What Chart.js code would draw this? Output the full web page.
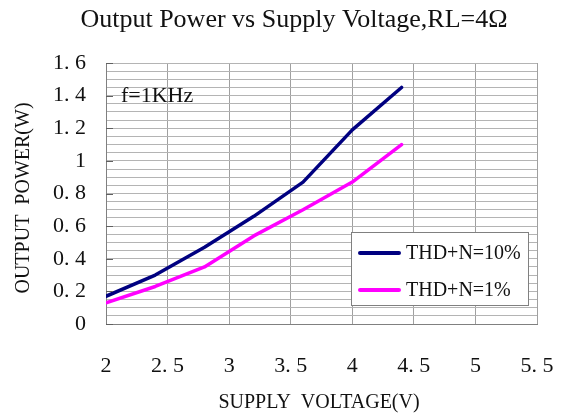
<!DOCTYPE html>
<html>
<head>
<meta charset="utf-8">
<title>Output Power vs Supply Voltage</title>
<script src="https://cdn.jsdelivr.net/npm/chart.js@4/dist/chart.umd.min.js"></script>
<style>
  html, body { margin: 0; padding: 0; background: #ffffff; }
  #wrap { width: 566px; height: 419px; }
</style>
</head>
<body>
<div id="wrap"><canvas id="c" width="566" height="419"></canvas></div>
<script>
// Supply voltage (V) at each measured point
const supplyVoltage = [2.0, 2.4, 2.8, 3.2, 3.6, 4.0, 4.4];
// Output power (W) at 10% and 1% THD+N
const powerThd10 = [0.17, 0.30, 0.47, 0.66, 0.87, 1.19, 1.45];
const powerThd1  = [0.13, 0.23, 0.35, 0.54, 0.70, 0.87, 1.10];
const seriesNames = ['THD+N=10%', 'THD+N=1%'];
const seriesColors = ['#000080', '#ff00ff'];

// Axis ranges and tick steps
const xRange = [2, 5.5];
const xStep = 0.5;
const yRange = [0, 1.6];
const yGridStep = 0.05;
const yLabelStep = 0.2;

const titleText = 'Output Power vs Supply Voltage,RL=4\u03A9';
const xTitle = 'SUPPLY  VOLTAGE(V)';
const yTitle = 'OUTPUT  POWER(W)';
const noteText = 'f=1KHz';

const SERIF = '"Liberation Serif", "DejaVu Serif", serif';

function fmtTick(v) {
  const s = String(Number(v.toFixed(2)));
  return s.replace('.', '. ');
}

function toPoints(xs, ys) {
  return xs.map((x, i) => ({ x: x, y: ys[i] }));
}

// Title, axis titles, note and boxed legend drawn on the canvas
const decorations = {
  id: 'decorations',
  afterDatasetsDraw(chart) {
    const ctx = chart.ctx;
    const area = chart.chartArea;
    const yScale = chart.scales.y;

    // short inside tick marks on the value axis
    ctx.save();
    ctx.strokeStyle = '#606060';
    ctx.lineWidth = 1;
    for (let v = yRange[0]; v <= yRange[1] + 1e-9; v += yLabelStep) {
      const py = Math.round(yScale.getPixelForValue(v)) + 0.5;
      ctx.beginPath();
      ctx.moveTo(area.left, py);
      ctx.lineTo(area.left + 7, py);
      ctx.stroke();
    }
    ctx.restore();

    ctx.save();
    ctx.fillStyle = '#111111';
    ctx.textBaseline = 'middle';

    // chart title
    ctx.font = '26px ' + SERIF;
    ctx.textAlign = 'center';
    ctx.fillText(titleText, 294, 20);

    // x axis title
    ctx.font = '20px ' + SERIF;
    ctx.fillText(xTitle, 319, 403);

    // y axis title
    ctx.save();
    ctx.translate(24, 198);
    ctx.rotate(-Math.PI / 2);
    ctx.fillText(yTitle, 0, 0);
    ctx.restore();

    // test condition note
    ctx.font = '22px ' + SERIF;
    ctx.textAlign = 'left';
    ctx.fillText(noteText, 121, 96);

    // legend box
    const box = { x: 351, y: 232, w: 177, h: 73 };
    ctx.fillStyle = '#ffffff';
    ctx.fillRect(box.x, box.y, box.w, box.h);
    ctx.strokeStyle = '#808080';
    ctx.lineWidth = 1;
    ctx.strokeRect(box.x + 0.5, box.y + 0.5, box.w, box.h);

    ctx.font = '20px ' + SERIF;
    ctx.textAlign = 'left';
    chart.data.datasets.forEach((ds, i) => {
      const cy = 253 + i * 37;
      ctx.strokeStyle = ds.borderColor;
      ctx.lineWidth = 4;
      ctx.lineCap = 'round';
      ctx.beginPath();
      ctx.moveTo(360, cy);
      ctx.lineTo(399, cy);
      ctx.stroke();
      ctx.fillStyle = '#111111';
      ctx.fillText(ds.label, 406, cy + 1);
    });
    ctx.restore();
  }
};

new Chart(document.getElementById('c'), {
  type: 'line',
  data: {
    datasets: [
      {
        label: seriesNames[0],
        data: toPoints(supplyVoltage, powerThd10),
        borderColor: seriesColors[0],
        backgroundColor: seriesColors[0],
        borderWidth: 3.5,
        pointRadius: 0,
        tension: 0,
        borderCapStyle: 'round',
        borderJoinStyle: 'round'
      },
      {
        label: seriesNames[1],
        data: toPoints(supplyVoltage, powerThd1),
        borderColor: seriesColors[1],
        backgroundColor: seriesColors[1],
        borderWidth: 3.5,
        pointRadius: 0,
        tension: 0,
        borderCapStyle: 'round',
        borderJoinStyle: 'round'
      }
    ]
  },
  options: {
    responsive: false,
    animation: false,
    events: [],
    layout: { padding: { top: 63, right: 29, bottom: 0, left: 0 } },
    plugins: {
      legend: { display: false },
      title: { display: false },
      tooltip: { enabled: false }
    },
    scales: {
      x: {
        type: 'linear',
        min: xRange[0],
        max: xRange[1],
        afterFit(scale) {
          scale.height = 95;
          scale.paddingLeft = 0;
          scale.paddingRight = 0;
        },
        ticks: {
          stepSize: xStep,
          autoSkip: false,
          maxRotation: 0,
          padding: 29,
          color: '#111111',
          font: { family: SERIF, size: 22 },
          callback: (v) => fmtTick(v)
        },
        grid: { color: '#a0a0a0', lineWidth: 1, drawTicks: false },
        border: { color: '#808080', width: 1 }
      },
      y: {
        type: 'linear',
        min: yRange[0],
        max: yRange[1],
        afterFit(scale) {
          scale.width = 106;
          scale.paddingTop = 0;
          scale.paddingBottom = 0;
        },
        ticks: {
          stepSize: yGridStep,
          autoSkip: false,
          padding: 20,
          color: '#111111',
          font: { family: SERIF, size: 22 },
          callback: (v) => {
            const k = v / yLabelStep;
            return Math.abs(k - Math.round(k)) < 1e-6 ? fmtTick(v) : '';
          }
        },
        grid: { color: '#b4b4b4', lineWidth: 1, drawTicks: false },
        border: { color: '#808080', width: 1 }
      }
    }
  },
  plugins: [decorations]
});
</script>
</body>
</html>
